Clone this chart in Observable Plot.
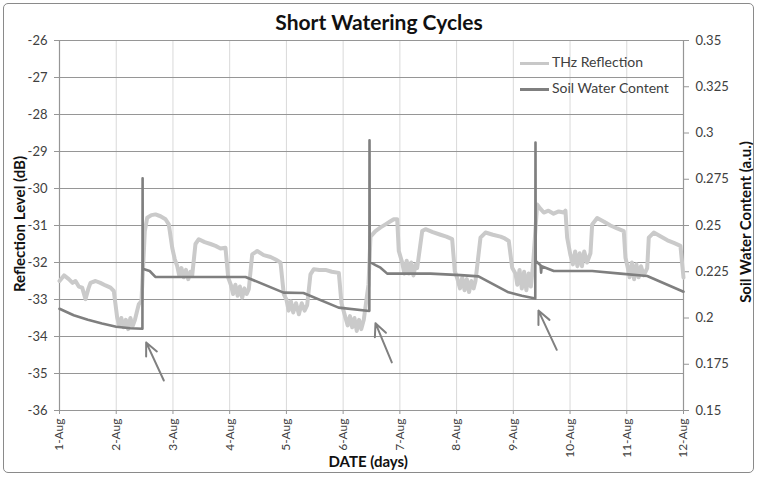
<!DOCTYPE html>
<html><head><meta charset="utf-8">
<script src="https://cdn.jsdelivr.net/npm/d3@7"></script>
<script src="https://cdn.jsdelivr.net/npm/@observablehq/plot@0.6"></script>
<style>
body{margin:0;background:#fff;}
#wrap{position:relative;width:758px;height:477px;font-family:Lato,"Open Sans",sans-serif;overflow:hidden;}
#frame{position:absolute;left:3px;top:3px;width:749px;height:468px;border:1.5px solid #8a8a8a;border-radius:5px;pointer-events:none;}
#title{position:absolute;left:0;width:758px;top:8px;text-align:center;font-weight:bold;font-size:21px;color:#111;line-height:28px;}
.axt{position:absolute;font-weight:bold;font-size:15px;color:#111;white-space:nowrap;line-height:18px;transform-origin:center center;}
.leg{position:absolute;left:520px;font-size:14px;color:#404040;white-space:nowrap;line-height:18px;}
.leg span.sw{display:inline-block;width:29px;vertical-align:middle;margin-right:3px;}
#chart svg{position:absolute;left:0;top:0;}
</style></head>
<body>
<div id="wrap">
  <div id="chart"></div>
  <div id="title">Short Watering Cycles</div>
  <div class="axt" id="ylab">Reflection Level (dB)</div>
  <div class="axt" id="y2lab">Soil Water Content (a.u.)</div>
  <div class="axt" id="xlab">DATE (days)</div>
  <div class="leg" style="top:53px"><span class="sw" style="border-top:3px solid #c8c8c8"></span>THz Reflection</div>
  <div class="leg" style="top:79px"><span class="sw" style="border-top:3px solid #7f7f7f"></span>Soil Water Content</div>
  <div id="frame"></div>
</div>
<script>
// Tick labels
const dayLabels = ["1-Aug","2-Aug","3-Aug","4-Aug","5-Aug","6-Aug","7-Aug","8-Aug","9-Aug","10-Aug","11-Aug","12-Aug"];
const leftTicks = [-36,-35,-34,-33,-32,-31,-30,-29,-28,-27,-26];
const rightTicks = [0.15,0.175,0.2,0.225,0.25,0.275,0.3,0.325,0.35];
const rightLabels = ["0.15","0.175","0.2","0.225","0.25","0.275","0.3","0.325","0.35"];

// THz Reflection (dB): [day offset from 1-Aug, value]
const thzSeries = [
  [0,-32.5],[0.08,-32.35],[0.164,-32.45],[0.23,-32.55],[0.282,-32.5],[0.34,-32.65],[0.4,-32.68],[0.458,-32.99],
  [0.511,-32.7],[0.546,-32.55],[0.635,-32.5],[0.72,-32.55],[0.811,-32.62],[0.899,-32.68],[0.957,-32.77],
  [1.017,-33.49],[1.05,-33.7],[1.09,-33.5],[1.13,-33.75],[1.17,-33.55],[1.21,-33.8],[1.25,-33.5],[1.29,-33.72],
  [1.33,-33.55],[1.37,-33.3],[1.398,-33.13],[1.445,-33.04],
  [1.504,-31.15],[1.546,-30.79],[1.62,-30.72],[1.692,-30.7],[1.78,-30.75],[1.869,-30.83],[1.927,-30.97],
  [1.987,-31.6],[2.03,-31.9],[2.075,-32.1],[2.11,-32.35],[2.15,-32.15],[2.19,-32.4],[2.23,-32.2],[2.27,-32.45],
  [2.31,-32.25],[2.339,-32.35],[2.397,-31.5],[2.455,-31.37],[2.56,-31.45],[2.662,-31.5],[2.75,-31.55],
  [2.838,-31.62],[2.926,-31.6],[2.974,-32.41],[3.02,-32.6],[3.06,-32.85],[3.1,-32.6],[3.14,-32.9],[3.18,-32.65],
  [3.22,-32.95],[3.26,-32.7],[3.3,-32.85],[3.337,-32.72],[3.397,-31.78],[3.485,-31.69],[3.6,-31.8],[3.72,-31.85],
  [3.81,-31.92],[3.896,-32.0],[3.954,-32.86],[4.0,-33.0],[4.04,-33.3],[4.08,-33.05],[4.12,-33.35],[4.17,-33.1],
  [4.22,-33.4],[4.27,-33.1],[4.32,-33.3],[4.366,-33.15],[4.424,-32.32],[4.483,-32.18],[4.58,-32.2],[4.689,-32.2],
  [4.8,-32.25],[4.924,-32.28],[4.971,-33.1],[5.041,-33.49],[5.08,-33.7],[5.12,-33.45],[5.16,-33.75],[5.2,-33.5],
  [5.24,-33.85],[5.28,-33.55],[5.32,-33.8],[5.364,-33.55],[5.424,-32.86],[5.447,-32.6],
  [5.482,-31.3],[5.57,-31.15],[5.66,-31.05],[5.747,-30.97],[5.82,-30.9],[5.893,-30.83],[5.953,-30.83],
  [5.981,-31.69],[6.041,-32.0],[6.08,-32.3],[6.12,-31.95],[6.16,-32.3],[6.2,-32.0],[6.24,-32.35],[6.28,-32.05],
  [6.305,-32.15],[6.394,-31.15],[6.452,-31.1],[6.58,-31.18],[6.716,-31.25],[6.82,-31.3],[6.922,-31.37],
  [6.968,-32.23],[7.016,-32.45],[7.06,-32.7],[7.1,-32.4],[7.14,-32.75],[7.18,-32.45],[7.22,-32.8],[7.26,-32.5],
  [7.3,-32.7],[7.333,-32.5],[7.421,-31.33],[7.509,-31.19],[7.64,-31.25],[7.774,-31.3],[7.85,-31.35],[7.92,-31.42],
  [7.98,-32.14],[8.038,-32.3],[8.07,-32.6],[8.11,-32.2],[8.15,-32.7],[8.19,-32.25],[8.23,-32.75],[8.27,-32.3],
  [8.31,-32.65],[8.333,-32.3],[8.355,-31.91],
  [8.42,-30.43],[8.48,-30.55],[8.537,-30.65],[8.62,-30.6],[8.71,-30.68],[8.8,-30.62],[8.889,-30.65],[8.919,-30.6],
  [8.949,-31.33],[9.007,-31.8],[9.05,-32.05],[9.09,-31.7],[9.13,-32.1],[9.17,-31.75],[9.21,-32.1],[9.25,-31.7],
  [9.3,-32.0],[9.36,-31.75],[9.39,-30.97],[9.478,-30.8],[9.6,-30.9],[9.712,-31.0],[9.83,-31.08],[9.947,-31.15],
  [9.977,-31.87],[10.012,-32.1],[10.05,-32.4],[10.09,-32.0],[10.13,-32.45],[10.17,-32.05],[10.21,-32.4],
  [10.25,-32.1],[10.3,-32.35],[10.36,-32.15],[10.388,-31.33],[10.476,-31.19],[10.6,-31.3],[10.717,-31.4],
  [10.83,-31.47],[10.946,-31.55],[11.0,-32.41]
];

// Soil Water Content (a.u.): [day offset from 1-Aug, value]
const swcSeries = [
  [0,0.205],[0.25,0.2015],[0.5,0.199],[0.75,0.197],[1.0,0.1953],[1.25,0.1945],[1.462,0.1942],[1.465,0.2755],
  [1.468,0.2266],[1.59,0.2254],[1.69,0.2222],[3.28,0.2222],[3.95,0.2137],[4.30,0.2135],[4.92,0.2056],[5.462,0.2038],
  [5.465,0.2961],[5.469,0.2303],[5.57,0.2286],[5.659,0.2272],[5.777,0.224],[6.54,0.224],[7.07,0.2232],[7.386,0.2225],
  [7.915,0.2139],[8.15,0.212],[8.387,0.2105],
  [8.391,0.2948],[8.395,0.2308],[8.48,0.2285],[8.49,0.2245],[8.50,0.228],[8.713,0.2254],[9.39,0.2254],[9.889,0.224],
  [10.36,0.2227],[11.0,0.2142]
];

// Annotation arrows (tail -> head), day / dB
const arrX1 = [1.839,5.858,8.766], arrY1 = [-35.19,-34.70,-34.36];
const arrX2 = [1.528,5.570,8.443], arrY2 = [-34.16,-33.64,-33.30];

const toDb = s => -36 + (s - 0.15) * 50;
const thz = thzSeries.map(([d,v])=>({d, v}));
const swc = swcSeries.map(([d,s])=>({d, s}));
const arrows = arrX1.map((x,i)=>({x1:x, y1:arrY1[i], x2:arrX2[i], y2:arrY2[i]}));
const dayTicks = dayLabels.map((_,i)=>i);

const gridGray = "#969696";
const chart = Plot.plot({
  width:758, height:477,
  marginLeft:59, marginRight:75, marginTop:40, marginBottom:67,
  style:{fontFamily:"Lato, 'Open Sans', sans-serif", fontSize:"13px", color:"#404040", background:"transparent", overflow:"visible"},
  x:{domain:[0,11]},
  y:{domain:[-36,-26]},
  marks:[
    Plot.gridX(dayTicks,{stroke:"#d9d9d9", strokeOpacity:1, strokeWidth:1}),
    Plot.gridY(leftTicks,{stroke:gridGray, strokeOpacity:1, strokeWidth:1}),
    Plot.axisY(leftTicks,{anchor:"left", tickSize:5, tickPadding:7, stroke:gridGray, tickFormat:d=>String(d), label:null, fontSize:13}),
    Plot.axisY(rightTicks.map(toDb),{anchor:"right", tickSize:5, tickPadding:7, stroke:gridGray,
      tickFormat:d=>rightLabels[Math.round((d+36)/1.25)], label:null, fontSize:13}),
    Plot.axisX(dayTicks,{anchor:"bottom", tickSize:4, tickPadding:4, stroke:gridGray, tickRotate:-90,
      tickFormat:d=>dayLabels[d], label:null, fontSize:12}),
    Plot.ruleX([0,11],{stroke:gridGray, strokeWidth:1.2}),
    Plot.ruleY([-36],{stroke:gridGray, strokeWidth:1.2}),
    Plot.line(thz,{x:"d", y:"v", stroke:"#cacaca", strokeWidth:4, strokeLinejoin:"round"}),
    Plot.line(swc,{x:"d", y:d=>toDb(d.s), stroke:"#7f7f7f", strokeWidth:2.6}),
    Plot.arrow(arrows,{x1:"x1", y1:"y1", x2:"x2", y2:"y2", stroke:"#808080", strokeWidth:2, headLength:12, headAngle:50})
  ]
});
document.getElementById("chart").appendChild(chart);

function place(id, cx, cy, rot){
  const el = document.getElementById(id);
  const w = el.offsetWidth, h = el.offsetHeight;
  el.style.left = (cx - w/2) + "px";
  el.style.top = (cy - h/2) + "px";
  if (rot) el.style.transform = "rotate(" + rot + "deg)";
}
place("ylab", 19, 224, -90);
place("y2lab", 745, 222, -90);
place("xlab", 368, 461, 0);
</script>
</body></html>
